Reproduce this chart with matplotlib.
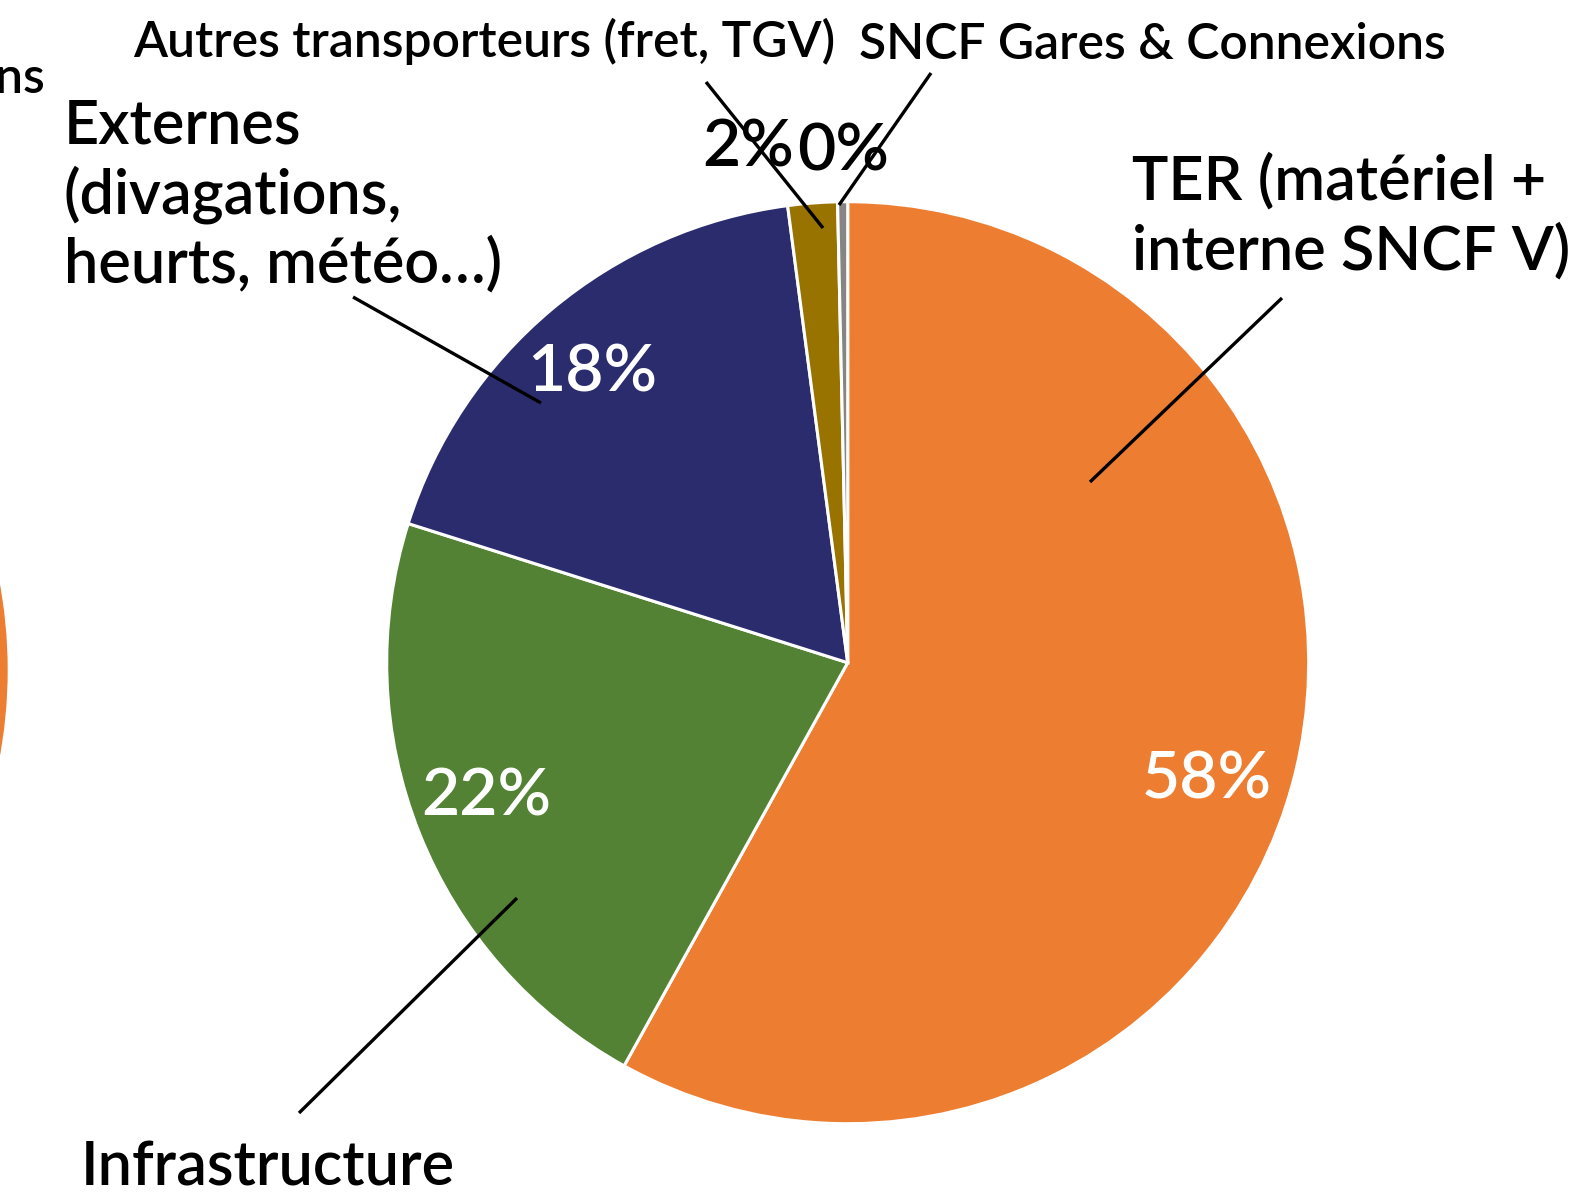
import numpy as np
from matplotlib import pyplot as plt
import matplotlib.patches as mpatches

#======Data======
categories = ['TER (matériel +\ninterne SNCF V)', 'Infrastructure',
              'Externes\n(divagations,\nheurts, météo…)',
              'Autres transporteurs (fret, TGV)', 'SNCF Gares & Connexions']
shares = [58.06, 21.82, 18.04, 1.73, 0.35]
colors = ['#ED7D31', '#548235', '#2B2C6E', '#987300', '#858585']
#================

W, H = 1588, 1194
fig = plt.figure(figsize=(W / 100, H / 100), dpi=100)
ax = fig.add_axes([0, 0, 1, 1])
plt.rcParams['font.family'] = ['Lato', 'DejaVu Sans']
WEIGHT = 'semibold'

def Y(y):  # picture rows -> data y (pixel units, origin bottom)
    return H - y

cx, cy, R = 847.7, Y(662.7), 461

wedges, texts, autotexts = ax.pie(shares, colors=colors, startangle=90, counterclock=False,
                                  center=(cx, cy), radius=R, autopct='%.0f%%',
                                  wedgeprops={'edgecolor': 'white', 'linewidth': 2.2},
                                  textprops={'fontsize': 47.5, 'fontweight': WEIGHT})

# percent labels placed where the original has them
pct_pos = [(1207, 780), (486, 797), (592, 373), (748, 148), (843, 152)]
pct_col = ['white', 'white', 'white', 'black', 'black']
for t, (px, py), c in zip(autotexts, pct_pos, pct_col):
    t.set_position((px, Y(py)))
    t.set_color(c)
    t.set_ha('center')
    t.set_va('center')

# category labels, one text per line
big = 44
small = 35.8
label_spec = [
    (0, 1132, 200, big),
    (1, 81, 1185, big),
    (2, 64, 143, big),
    (3, 133, 57, small),
    (4, 859, 59, small),
]
for idx, x0, base, fs in label_spec:
    for k, line in enumerate(categories[idx].split('\n')):
        ax.text(x0, Y(base + k * 70), line, fontsize=fs, fontweight=WEIGHT,
                ha='left', va='baseline', color='black')

# leader lines
leaders = [
    ((1282, 298), (1090, 482)),
    ((517, 898), (299, 1113)),
    ((353, 297), (541, 403)),
    ((706, 82), (823, 228)),
    ((931, 73), (839, 205)),
]
for (x1, y1), (x2, y2) in leaders:
    ax.plot([x1, x2], [Y(y1), Y(y2)], color='black', lw=2.4, solid_capstyle='butt')

# tail of the neighbouring chart, cut by the left edge
ax.text(45, Y(93), categories[4], fontsize=small, fontweight=WEIGHT,
        ha='right', va='baseline', color='black', clip_on=False)
ax.add_patch(mpatches.Circle((7 - 478, Y(670)), 478, color=colors[0], clip_on=False))

ax.set_xlim(0, W)
ax.set_ylim(0, H)
ax.set_aspect('auto')
ax.set_axis_off()
fig.savefig('out.png', dpi=100)
